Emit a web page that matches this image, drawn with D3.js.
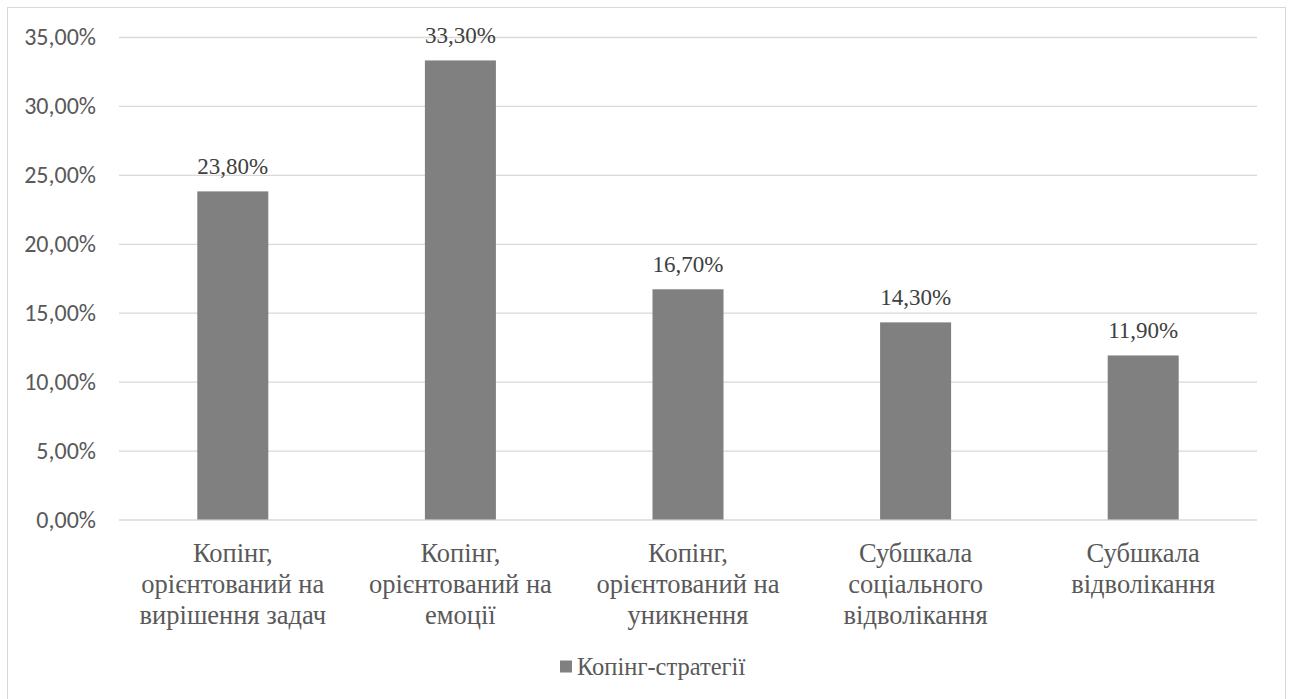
<!DOCTYPE html>
<html>
<head>
<meta charset="utf-8">
<script src="https://cdn.jsdelivr.net/npm/d3@7"></script>
<style>
  html, body { margin: 0; padding: 0; background: #fff; }
  svg { display: block; }
</style>
</head>
<body>
<svg id="chart" width="1291" height="699"></svg>
<script>
// Coping strategies, share of respondents (%)
const categories = [
  ["Копінг,", "орієнтований на", "вирішення задач"],
  ["Копінг,", "орієнтований на", "емоції"],
  ["Копінг,", "орієнтований на", "уникнення"],
  ["Субшкала", "соціального", "відволікання"],
  ["Субшкала", "відволікання"]
];
const values = [23.8, 33.3, 16.7, 14.3, 11.9];
const yTicks = [0, 5, 10, 15, 20, 25, 30, 35];
const seriesName = "Копінг-стратегії";

const svg = d3.select("#chart");
const W = 1291, H = 699;
const margin = { left: 119, right: 34, top: 37 };
const plotW = W - margin.left - margin.right;
const plotH = 519.5 - margin.top;

const SERIF = '"Liberation Serif", "Times New Roman", serif';
const SANS = '"Carlito", "Open Sans", sans-serif';
const textColor = "#595959";
const barColor = "#808080";
const gridColor = "#d9d9d9";
const fmt = v => v.toFixed(2).replace(".", ",") + "%";

// chart frame
svg.append("rect")
  .attr("x", 7.5).attr("y", 7.5)
  .attr("width", 1278).attr("height", 700)
  .attr("fill", "#fff").attr("stroke", "#d9d9d9").attr("stroke-width", 1);

const g = svg.append("g").attr("transform", `translate(${margin.left},${margin.top})`);

const x = d3.scaleBand().domain(d3.range(categories.length)).range([0, plotW]).paddingInner(0.688).paddingOuter(0.344);
const y = d3.scaleLinear().domain([0, 35]).range([plotH, 0]);

// gridlines and y labels
const yAxis = d3.axisLeft(y).tickValues(yTicks).tickSize(-plotW).tickPadding(23).tickFormat(fmt);
const ya = g.append("g").call(yAxis);
ya.attr("font-family", SANS).attr("font-size", 24);
ya.select(".domain").remove();
ya.selectAll(".tick line").attr("stroke", gridColor).attr("stroke-width", 1.3);
ya.selectAll(".tick text")
  .attr("fill", textColor)
  .style("font-family", SANS)
  .style("font-size", "24px");

// bars
g.selectAll("rect.bar").data(values).join("rect")
  .attr("class", "bar")
  .attr("x", (d, i) => x(i))
  .attr("width", x.bandwidth())
  .attr("y", d => y(d))
  .attr("height", d => plotH - y(d))
  .attr("fill", barColor);

// value labels
g.selectAll("text.val").data(values).join("text")
  .attr("class", "val")
  .attr("x", (d, i) => x(i) + x.bandwidth() / 2)
  .attr("y", d => y(d) - 17.5)
  .attr("text-anchor", "middle")
  .attr("fill", "#404040")
  .style("font-family", SERIF)
  .style("font-size", "23px")
  .text(d => fmt(d));

// category labels
const xa = g.append("g").attr("transform", `translate(0,${plotH})`);
categories.forEach((lines, i) => {
  const t = xa.append("text")
    .attr("x", x(i) + x.bandwidth() / 2)
    .attr("y", 42.5)
    .attr("text-anchor", "middle")
    .attr("fill", textColor)
    .style("font-family", SERIF)
    .style("font-size", "26.5px");
  lines.forEach((ln, k) => {
    t.append("tspan").attr("x", x(i) + x.bandwidth() / 2).attr("dy", k === 0 ? 0 : 31).text(ln);
  });
});

// legend
const legend = svg.append("g").attr("transform", "translate(560,660.5)");
legend.append("rect").attr("width", 12).attr("height", 12).attr("fill", barColor);
legend.append("text")
  .attr("x", 17).attr("y", 14.5)
  .attr("fill", textColor)
  .style("font-family", SERIF)
  .style("font-size", "24.5px")
  .text(seriesName);
</script>
</body>
</html>
